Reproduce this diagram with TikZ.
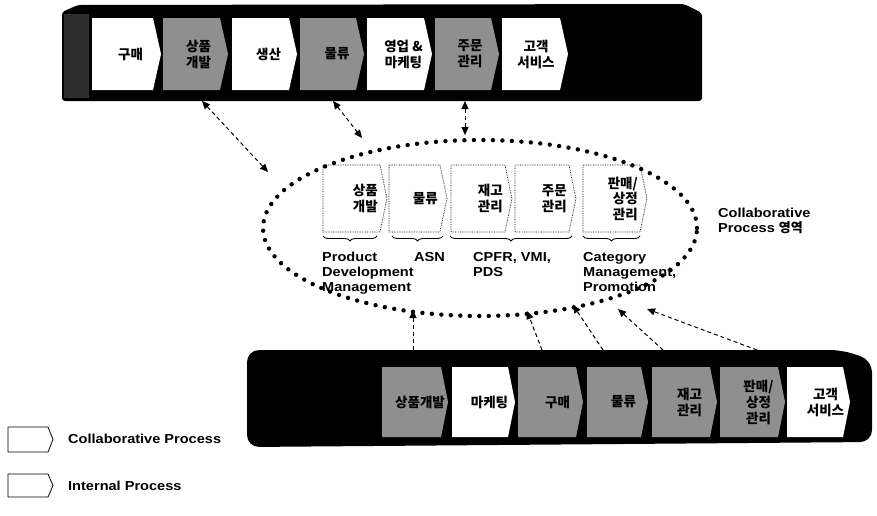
\documentclass[tikz,border=0pt]{standalone}
\usepackage{fontspec}
\setmainfont{Liberation Sans}[FakeStretch=1.12]
\newfontfamily\kr{Noto Sans CJK KR}
\usetikzlibrary{shapes.geometric,decorations.pathreplacing,arrows.meta}
\definecolor{hatch}{gray}{0.56}
\tikzset{
  wfill/.style={fill=white},
  gfill/.style={fill=hatch},
  ifill/.style={fill=white, draw=black, densely dotted, line width=0.7pt},
  lfill/.style={fill=white, draw=black, line width=0.8pt},
  ctext/.style={font=\kr\bfseries\fontsize{13.5}{16}\selectfont, align=center, inner sep=0pt},
  ictext/.style={font=\kr\bfseries\fontsize{13.5}{15.5}\selectfont, align=right, inner sep=0pt, anchor=east},
  lbl/.style={font=\bfseries\fontsize{13}{15}\selectfont, align=left, inner sep=0pt, anchor=north west},
  link/.style={line width=1pt, dash pattern=on 4pt off 3pt, -{Triangle[length=8pt,width=7pt]}},
  dlink/.style={link, {Triangle[length=8pt,width=7pt]}-{Triangle[length=8pt,width=7pt]}},
  collarea/.style={draw, ellipse, line width=4.4pt, dash pattern=on 0pt off 9.5pt, line cap=round, inner sep=0pt},
  brc/.style={decorate, decoration={brace, mirror, amplitude=5pt}, line width=0.9pt},
  barbox/.style={inner sep=0pt, outer sep=0pt}
}
% #1 name, #2 fill style, #3 x1, #4 x2, #5 y1, #6 y2, #7 tip depth, #8 text options, #9 text
\newcommand\chevbox[9]{%
  \path[#2] (#3,#5) -- ({#4-#7},#5) -- (#4,{(#5+#6)/2}) -- ({#4-#7},#6) -- (#3,#6) -- cycle;
  \node[#8] (#1) at ({(#3+#4)/2},{(#5+#6)/2}) {#9};}
\begin{document}
\begin{tikzpicture}[x=1pt,y=-1pt]
\useasboundingbox (0,0) rectangle (877,515);

% ---------- top bar ----------
\fill[black, rounded corners=3pt] (62,12) -- (78,5) -- (684,4) -- (702,13) -- (702,101) -- (62,101) -- cycle;
\fill[black!82] (64,14) rectangle (89,98);
\node[barbox, minimum width=640pt, minimum height=97pt] (topbar) at (382,52.5) {};

\chevbox{t1}{wfill}{92}{161}{18}{90}{8}{ctext, xshift=4pt}{구매}
\chevbox{t2}{gfill}{163}{228}{18}{90}{8}{ctext, xshift=3pt}{상품\\개발}
\chevbox{t3}{wfill}{232}{297}{18}{90}{8}{ctext, xshift=4pt}{생산}
\chevbox{t4}{gfill}{300}{364}{18}{90}{8}{ctext, xshift=5pt}{물류}
\chevbox{t5}{wfill}{367}{432}{18}{90}{8}{ctext, xshift=4pt}{영업 \&\\마케팅}
\chevbox{t6}{gfill}{435}{499}{18}{90}{8}{ctext, xshift=3pt}{주문\\관리}
\chevbox{t7}{wfill}{502}{568}{18}{90}{8}{ctext, xshift=1pt}{고객\\서비스}

% ---------- bottom bar ----------
\fill[black, rounded corners=12pt] (247,350) -- (842,350) -- (872,360) -- (872,442) -- (247,447) -- cycle;
\node[barbox, minimum width=625pt, minimum height=97pt] (botbar) at (559.5,398.5) {};

\chevbox{b1}{gfill}{382}{448}{367}{437}{7}{ctext, xshift=5pt}{상품개발}
\chevbox{b2}{wfill}{452}{515}{367}{437}{7}{ctext, xshift=6pt}{마케팅}
\chevbox{b3}{gfill}{518}{583}{367}{437}{7}{ctext, xshift=7pt}{구매}
\chevbox{b4}{gfill}{587}{648}{367}{437}{7}{ctext, xshift=6pt}{물류}
\chevbox{b5}{gfill}{652}{717}{367}{437}{7}{ctext, xshift=5pt}{재고\\관리}
\chevbox{b6}{gfill}{720}{785}{367}{437}{7}{ctext, xshift=6pt}{판매/\\상정\\관리}
\chevbox{b7}{wfill}{787}{850}{367}{437}{7}{ctext, xshift=7pt}{고객\\서비스}

% ---------- collaborative chevrons ----------
\chevbox{c1}{ifill}{323}{387}{165}{232}{7}{ictext, xshift=23pt}{상품\\개발}
\chevbox{c2}{ifill}{389}{447}{165}{232}{7}{ictext, xshift=20pt}{물류}
\chevbox{c3}{ifill}{451}{512}{165}{232}{7}{ictext, xshift=21.5pt}{재고\\관리}
\chevbox{c4}{ifill}{515}{576}{165}{232}{7}{ictext, xshift=21.5pt}{주문\\관리}
\chevbox{c5}{ifill}{583}{647}{165}{232}{7}{ictext, xshift=23pt}{판매/\\상정\\관리}

% braces
\draw[brc] (323,236) -- (377,236);
\draw[brc] (392,236) -- (443,236);
\draw[brc] (450,236) -- (572,236);
\draw[brc] (583,236) -- (640,236);

% labels
\node[lbl] (l1) at (322,252) {Product\\Development\\Management};
\node[lbl] (l2) at (414,252) {ASN};
\node[lbl] (l3) at (473,252) {CPFR, VMI,\\PDS};
\node[lbl] (l4) at (583,252) {Category\\Management,\\Promotion};
\node[lbl] (l5) at (718,208) {Collaborative\\Process {\kr\bfseries 영역}};

% ellipse
\node[collarea, minimum width=434pt, minimum height=176pt] (coll) at (480,228) {};

% ---------- connectors ----------
\coordinate (u1) at (202,101); \coordinate (e1) at (268,172);
\coordinate (u2) at (333,101); \coordinate (e2) at (362,138);
\coordinate (u3) at (465,101); \coordinate (e3) at (465,135);
\draw[dlink] (u1) -- (e1);
\draw[dlink] (u2) -- (e2);
\draw[dlink] (u3) -- (e3);

\coordinate (d1) at (413,350); \coordinate (f1) at (413,310);
\coordinate (d2) at (542,350); \coordinate (f2) at (527,311);
\coordinate (d3) at (603,350); \coordinate (f3) at (573,305);
\coordinate (d4) at (663,350); \coordinate (f4) at (618,309);
\coordinate (d5) at (757,350); \coordinate (f5) at (647,309);
\draw[link] (d1) -- (f1);
\draw[link] (d2) -- (f2);
\draw[link] (d3) -- (f3);
\draw[link] (d4) -- (f4);
\draw[link] (d5) -- (f5);

% ---------- legend ----------
\chevbox{leg1}{lfill}{8}{53}{427}{452}{5}{inner sep=0pt}{}
\chevbox{leg2}{lfill}{8}{53}{474}{497}{5}{inner sep=0pt}{}
\node[lbl, anchor=west] (leg1t) at (68,439) {Collaborative Process};
\node[lbl, anchor=west] (leg2t) at (68,486) {Internal Process};
\end{tikzpicture}
\end{document}
